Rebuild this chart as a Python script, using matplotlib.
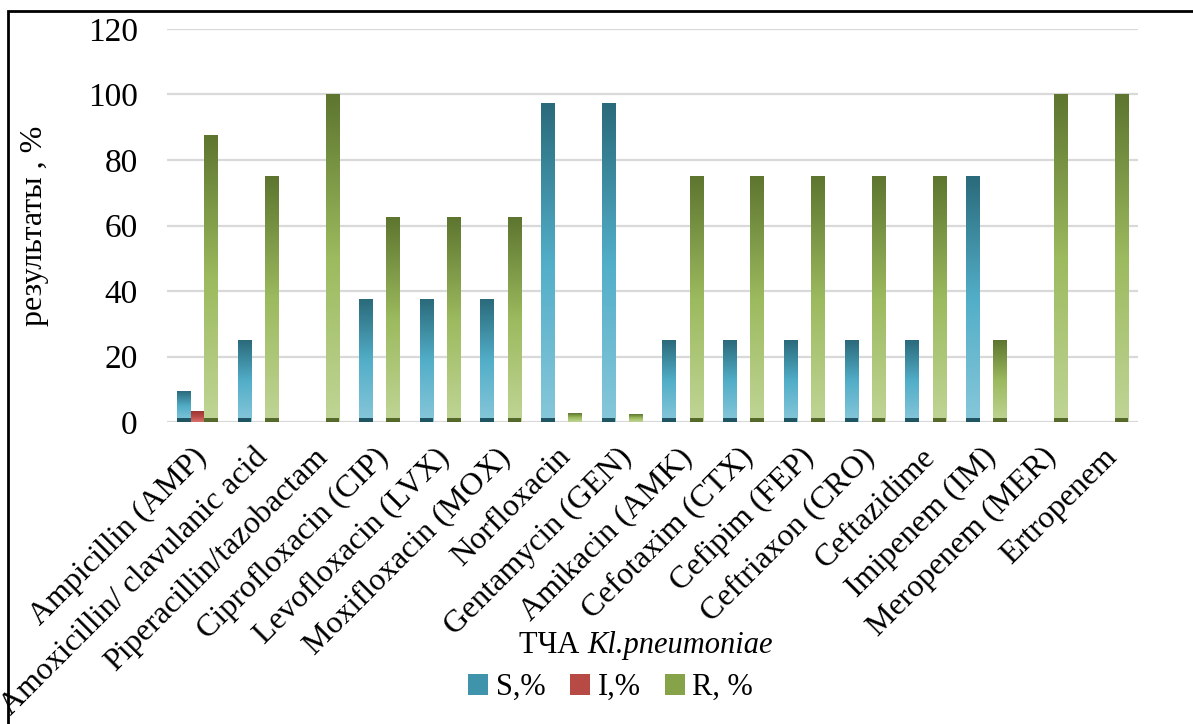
import numpy as np
import matplotlib.pyplot as plt
import matplotlib.transforms as mtransforms
from matplotlib.colors import LinearSegmentedColormap
from matplotlib.patches import Rectangle, Patch

# данные с графика (ТЧА Kl.pneumoniae)
drugs = ["Ampicillin (AMP)", "Amoxicillin/ clavulanic acid", "Piperacillin/tazobactam",
         "Ciprofloxacin (CIP)", "Levofloxacin (LVX)", "Moxifloxacin (MOX)", "Norfloxacin",
         "Gentamycin (GEN)", "Amikacin (AMK)", "Cefotaxim (CTX)", "Cefipim (FEP)",
         "Ceftriaxon (CRO)", "Ceftazidime", "Imipenem (IM)", "Meropenem (MER)", "Ertropenem"]
s_vals = [9.4, 25, 0, 37.5, 37.5, 37.5, 97.3, 97.3, 25, 25, 25, 25, 25, 75, 0, 0]
i_vals = [3.1, 0, 0, 0, 0, 0, 0, 0, 0, 0, 0, 0, 0, 0, 0, 0]
r_vals = [87.5, 75, 100, 62.5, 62.5, 62.5, 2.7, 2.4, 75, 75, 75, 75, 75, 25, 100, 100]
series_names = ["S,%", "I,%", "R, %"]

plt.rcParams['font.family'] = ['Liberation Serif', 'DejaVu Serif']

cm_s = LinearSegmentedColormap.from_list("s", ["#87c7da", "#52aec8", "#2a6a7b"])
cm_i = LinearSegmentedColormap.from_list("i", ["#d8726e", "#b84a46", "#9c3532"])
cm_r = LinearSegmentedColormap.from_list("r", ["#c0d596", "#9cba5e", "#5d752f"])
base_cols = ["#1f5563", "#7a2826", "#55692a"]
mid_cols = ["#3f93ab", "#b84a46", "#86a34a"]

fig = plt.figure(figsize=(11.93, 7.24), dpi=100)
ax = fig.add_axes([0.140, 0.417, 0.814, 0.543])

x = np.arange(len(drugs))
w = 0.225
grad = np.linspace(0, 1, 256).reshape(-1, 1)

for k, (vals, cm) in enumerate(zip([s_vals, i_vals, r_vals], [cm_s, cm_i, cm_r])):
    bars = ax.bar(x + (k - 1) * w, vals, w, color=mid_cols[k], zorder=2)
    for b in bars:
        h = b.get_height()
        if h <= 0:
            continue
        ax.imshow(grad, extent=[b.get_x(), b.get_x() + b.get_width(), 0, h],
                  aspect='auto', cmap=cm, origin='lower', zorder=3)
        if h > 5:
            ax.bar(b.get_x() + b.get_width() / 2, 1.2, b.get_width(),
                   color=base_cols[k], zorder=4)

ax.set_xlim(-0.5, len(drugs) - 0.5)
ax.set_ylim(0, 120)
ax.set_yticks(range(0, 121, 20))
ax.yaxis.grid(True, color='#d9d9d9', linewidth=1.6, zorder=0)
ax.set_axisbelow(True)
for sp in ax.spines.values():
    sp.set_visible(False)
ax.tick_params(length=0)
ax.tick_params(axis='y', labelsize=24, pad=21)
ax.set_xticks(x)
ax.set_xticklabels(drugs, rotation=45, ha='right', va='center', rotation_mode='anchor', fontsize=23)
ax.tick_params(axis='x', pad=22)
# небольшой сдвиг подписей вправо
shift = mtransforms.ScaledTranslation(5 / 100, 0, fig.dpi_scale_trans)
for lab in ax.get_xticklabels():
    lab.set_transform(lab.get_transform() + shift)
ax.set_ylabel("результаты , %", fontsize=23, labelpad=28)

fig.text(0.492, 0.108, "ТЧА ", fontsize=22, ha='right', va='center')
fig.text(0.492, 0.108, "Kl.pneumoniae", fontsize=22, ha='left', va='center', style='italic')

handles = [Patch(facecolor=c) for c in mid_cols]
fig.legend(handles, series_names, loc='center', bbox_to_anchor=(0.512, 0.05), ncol=3,
           frameon=False, fontsize=22, handlelength=0.65, handleheight=0.65,
           handletextpad=0.25, columnspacing=0.8)

# рамка вокруг рисунка
fig.patches.append(Rectangle((8 / 1193, -0.1), 1.2, 1.1 - 11 / 724,
                             transform=fig.transFigure, fill=False,
                             edgecolor='black', linewidth=2))

fig.savefig("out.png", dpi=100)
